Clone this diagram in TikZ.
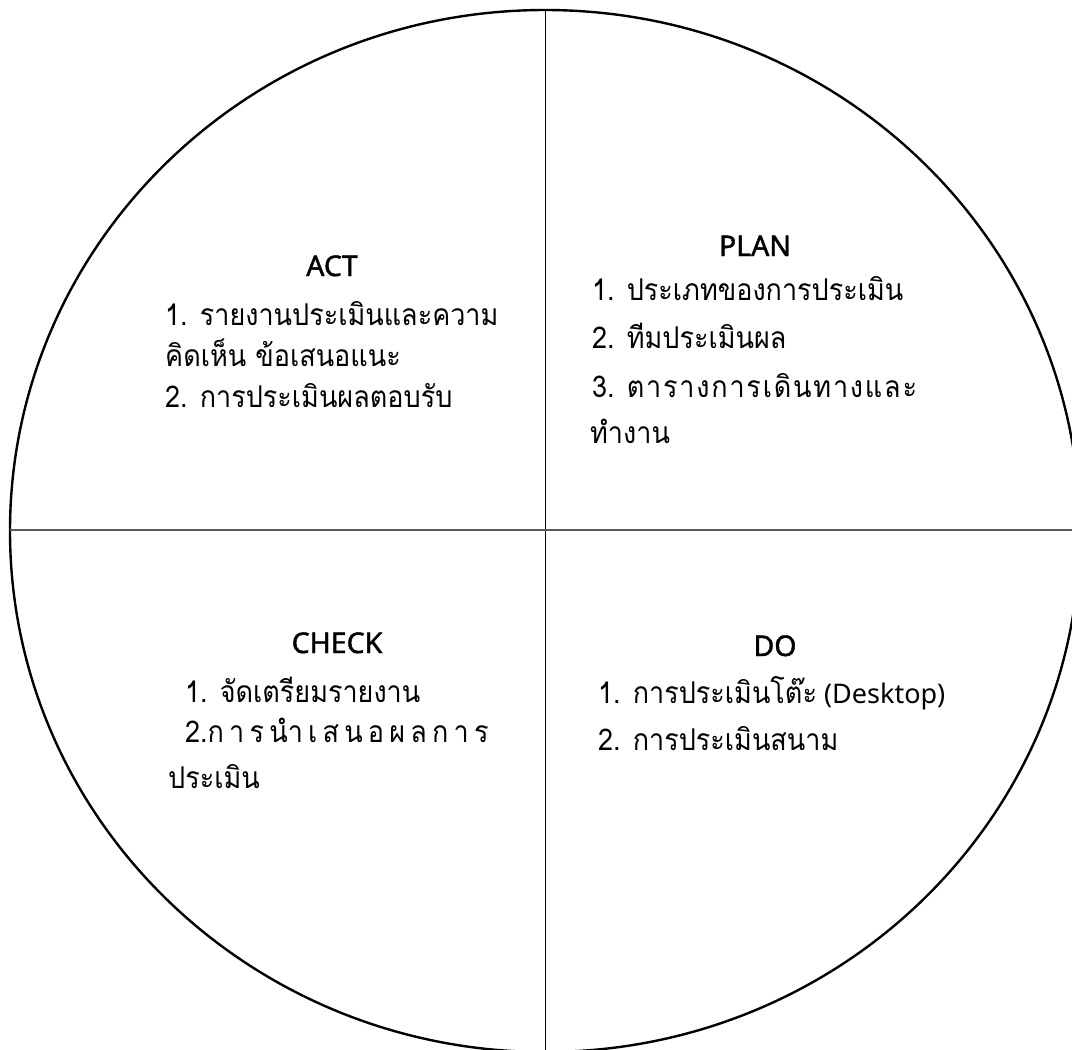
\documentclass[tikz,border=0pt]{standalone}
\usepackage{fontspec}
\setmainfont[Script=Thai, FakeStretch=0.9]{Loma}
\newfontfamily\headfont[FakeBold=1.5]{Noto Sans}
\newfontfamily\latinfont{Noto Sans}
\newcommand{\pgap}{\hspace{1.8pt}}
\newcommand{\cgap}{\hspace{5.2pt}}

\begin{document}
\begin{tikzpicture}[x=1pt,y=-1pt,
	head/.style={anchor=base, inner sep=0pt, font=\headfont\fontsize{28.5}{34}\selectfont},
	item/.style={anchor=base west, inner sep=0pt, font=\fontsize{30}{36}\selectfont}]
	\useasboundingbox (0,0) rectangle (1072,1050);
	\fill[white] (0,0) rectangle (1072,1050);

	% Cercle et axes
	\coordinate (top) at (545,10);
	\coordinate (bottom) at (545,1050);
	\coordinate (left) at (10,530);
	\coordinate (right) at (1072,530);
	\begin{scope}
		\clip (0,0) rectangle (1072,1050);
		\draw[line width=2.4pt] (545,531) ellipse [x radius=535pt, y radius=521pt];
	\end{scope}
	\draw[line width=1pt] (top) -- (bottom);
	\draw[line width=1.3pt, black!65] (left) -- (right);

	% ACT
	\node[head] (act) at (332,276) {ACT};
	\node[item] (act1) at (165,325) {1. รายงานประเมินและความ};
	\node[item] (act2) at (165,366) {คิดเห็น ข้อเสนอแนะ};
	\node[item] (act3) at (165,407) {2. การประเมินผลตอบรับ};

	% PLAN
	\node[head] (plan) at (755,256) {PLAN};
	\node[item] (plan1) at (592,300) {1. ประเภทของการประเมิน};
	\node[item] (plan2) at (592,348) {2. ทีมประเมินผล};
	\node[item] (plan3) at (592,397) {3. ต\pgap า\pgap ร\pgap า\pgap ง\pgap ก\pgap า\pgap ร\pgap เ\pgap ดิ\pgap น\pgap ท\pgap า\pgap ง\pgap แ\pgap ล\pgap ะ};
	\node[item] (plan4) at (590,443) {ทำงาน};

	% CHECK
	\node[head] (check) at (337,653) {CHECK};
	\node[item] (check1) at (185,702) {1. จัดเตรียมรายงาน};
	\node[item] (check2) at (185,742) {2.ก\cgap า\cgap ร\cgap นำ\cgap เ\cgap ส\cgap น\cgap อ\cgap ผ\cgap ล\cgap ก\cgap า\cgap ร};
	\node[item] (check3) at (168,788) {ประเมิน};

	% DO
	\node[head] (do) at (775,656) {DO};
	\node[item] (do1) at (598,703) {1. การประเมินโต๊ะ\hspace{-2pt} {\latinfont\fontsize{27}{36}\selectfont (Desktop)}};
	\node[item] (do2) at (598,750) {2. การประเมินสนาม};
\end{tikzpicture}
\end{document}
